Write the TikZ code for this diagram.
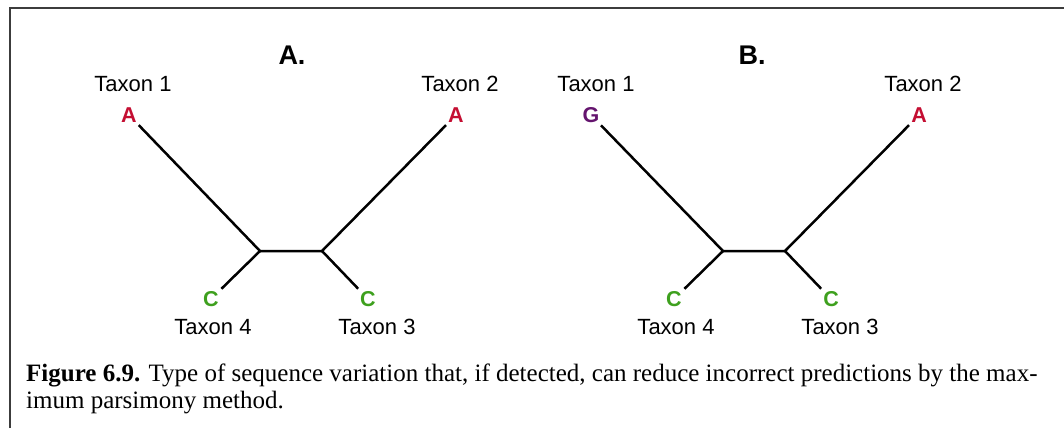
\documentclass[tikz,border=0pt]{standalone}
\usepackage{fontspec}
\setmainfont{Liberation Serif}
\newfontfamily\taxonfont{Liberation Sans}
\usetikzlibrary{positioning}
\definecolor{basered}{RGB}{196, 14, 50}
\definecolor{basegreen}{RGB}{62, 160, 30}
\definecolor{basepurple}{RGB}{100, 20, 110}
\definecolor{framegray}{RGB}{60, 60, 60}

\begin{document}
\begin{tikzpicture}[
  x=1pt, y=-1pt,
  taxon/.style={font=\taxonfont\fontsize{22}{26}\selectfont, inner sep=0pt},
  base/.style={font=\taxonfont\bfseries\fontsize{21.5}{24}\selectfont, inner sep=2.5pt},
  treetitle/.style={font=\taxonfont\bfseries\fontsize{27}{30}\selectfont, inner sep=0pt},
  branch/.style={line width=2.5pt, black}
]
  \useasboundingbox (0,0) rectangle (1064,428);
  \draw[line width=2pt, framegray] (10,428) -- (10,8) -- (1064,8);

  % tree A
  \node[treetitle] (titleA) at (292,55) {A.};
  \node[taxon] (tA1) at (133,84) {Taxon 1};
  \node[taxon] (tA2) at (460,84) {Taxon 2};
  \node[taxon] (tA4) at (213,327) {Taxon 4};
  \node[taxon] (tA3) at (377,327) {Taxon 3};
  \node[base, basered] (bA1) at (129,115) {A};
  \node[base, basered] (bA2) at (456,115) {A};
  \node[base, basegreen] (bA4) at (211,299) {C};
  \node[base, basegreen] (bA3) at (368,299) {C};
  \coordinate (iAL) at (260,251);
  \coordinate (iAR) at (322,251);
  \draw[branch] (bA1) -- (iAL) -- (iAR) -- (bA2);
  \draw[branch] (bA4) -- (iAL);
  \draw[branch] (bA3) -- (iAR);

  % tree B
  \node[treetitle] (titleB) at (752,55) {B.};
  \node[taxon] (tB1) at (596,84) {Taxon 1};
  \node[taxon] (tB2) at (923,84) {Taxon 2};
  \node[taxon] (tB4) at (676,327) {Taxon 4};
  \node[taxon] (tB3) at (840,327) {Taxon 3};
  \node[base, basepurple] (bB1) at (591,115) {G};
  \node[base, basered] (bB2) at (919,115) {A};
  \node[base, basegreen] (bB4) at (674,299) {C};
  \node[base, basegreen] (bB3) at (831,299) {C};
  \coordinate (iBL) at (723,251);
  \coordinate (iBR) at (785,251);
  \draw[branch] (bB1) -- (iBL) -- (iBR) -- (bB2);
  \draw[branch] (bB4) -- (iBL);
  \draw[branch] (bB3) -- (iBR);

  % caption
  \node[anchor=base west, align=left, inner sep=0pt,
        font=\fontsize{25}{27}\selectfont] (caption) at (26,408)
    {\textbf{Figure 6.9.} Type of sequence variation that, if detected, can reduce incorrect predictions by the max-\\
     imum parsimony method.};
\end{tikzpicture}
\end{document}
